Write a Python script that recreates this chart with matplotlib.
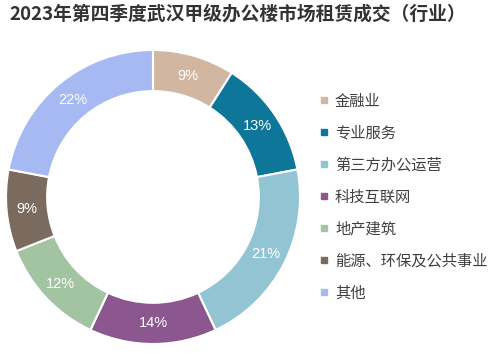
import matplotlib.pyplot as plt
from matplotlib.lines import Line2D

plt.rcParams['font.family'] = ['Noto Sans CJK SC', 'DejaVu Sans']

# 数据
categories = ['金融业', '专业服务', '第三方办公运营', '科技互联网', '地产建筑', '能源、环保及公共事业', '其他']
shares = [9, 13, 21, 14, 12, 9, 22]
colors = ['#D1B6A1', '#0E7699', '#93C4D4', '#8C568E', '#A3C4A1', '#7B6B5E', '#A7B9F2']

fig = plt.figure(figsize=(5, 3.53), dpi=100)
ax = fig.add_axes([0.012, 0.0255, 0.588, 0.833])

wedges, texts, autotexts = ax.pie(
    shares, colors=colors, startangle=90, counterclock=False,
    autopct='%d%%', pctdistance=0.86,
    wedgeprops=dict(width=0.28, edgecolor='white', linewidth=1.5),
    textprops=dict(color='white', fontsize=10.5, family=['Liberation Sans', 'DejaVu Sans']),
)
ax.set_xlim(-1, 1)
ax.set_ylim(-1, 1)
ax.set_aspect('equal')

fig.text(0.018, 0.96, '2023年第四季度武汉甲级办公楼市场租赁成交（行业）',
         fontsize=13.5, fontweight='bold', color='#333333', va='center')

# 图例
handles = [Line2D([], [], marker='s', linestyle='none', markersize=5,
                  markerfacecolor=c, markeredgecolor=c) for c in colors]
fig.legend(handles, categories, loc='upper left', bbox_to_anchor=(0.638, 0.738),
           frameon=False, fontsize=11, labelcolor='#404040',
           handlelength=0.6, handletextpad=0.45, labelspacing=0.98,
           borderaxespad=0, borderpad=0)

plt.savefig('out.png', dpi=100)
